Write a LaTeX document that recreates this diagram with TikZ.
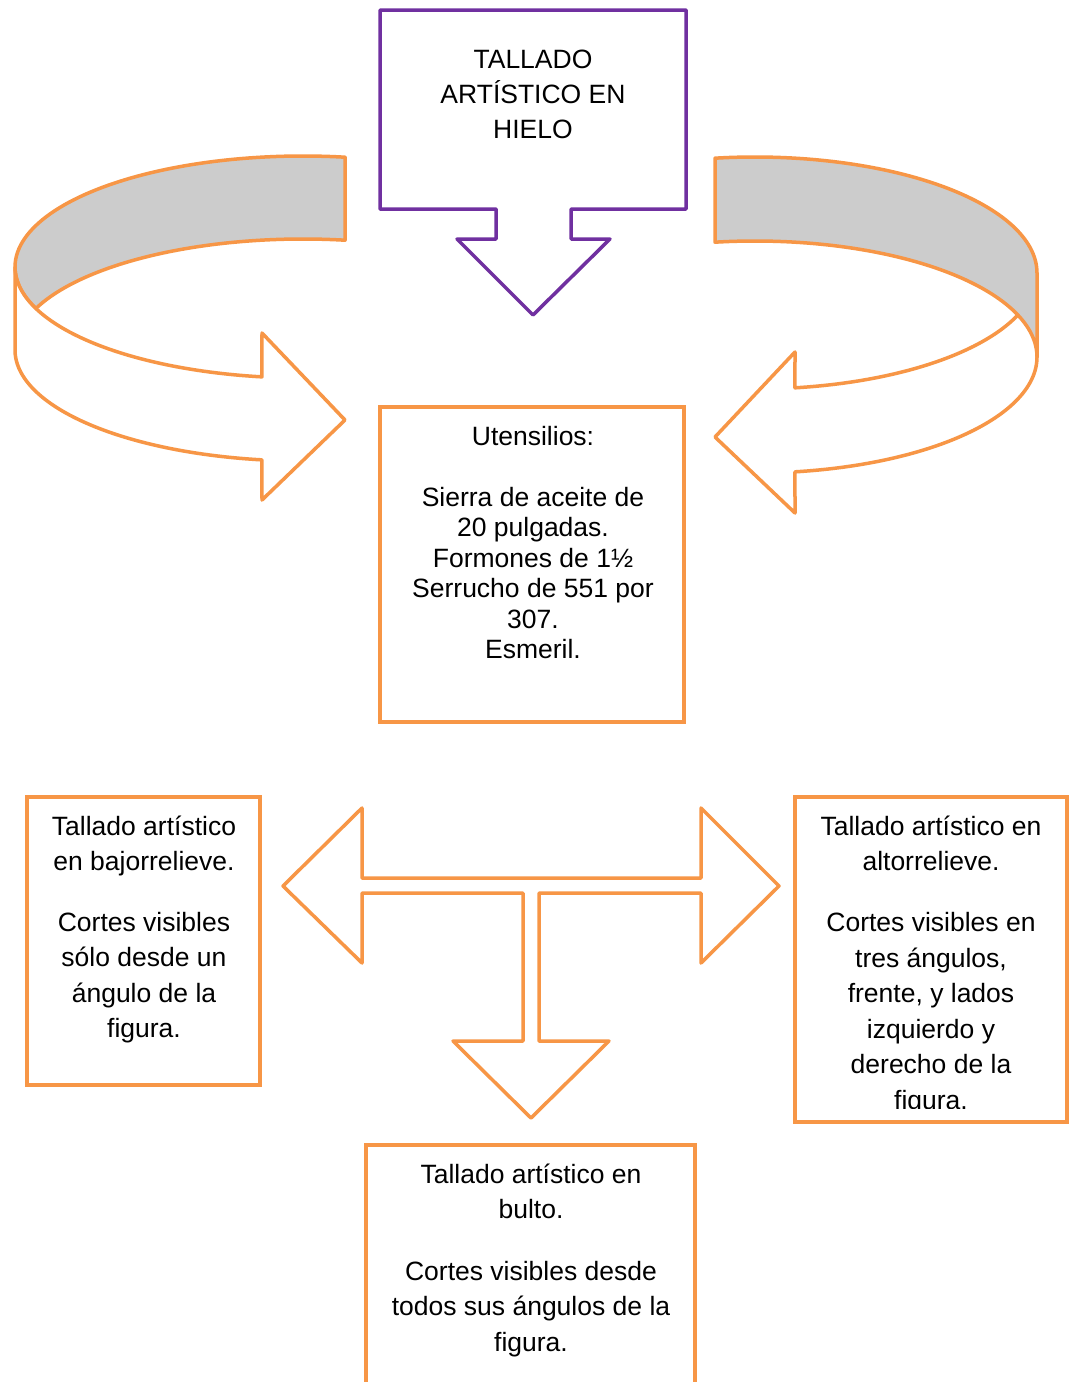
\documentclass[tikz,border=0pt]{standalone}
\usepackage{fontspec}
\setmainfont{Liberation Sans}
\definecolor{accorange}{HTML}{F79646}
\definecolor{accpurple}{HTML}{7030A0}
\definecolor{bandgray}{HTML}{CCCCCC}

\begin{document}
\begin{tikzpicture}[x=1pt, y=-1pt,
  outl/.style={draw=accorange, line width=3.5pt, line join=round, fill=white},
  band/.style={draw=accorange, line width=3.5pt, line join=round, fill=bandgray},
  callout/.style={draw=accpurple, line width=3.5pt, line join=round, fill=white},
  obox/.style={draw=accorange, line width=3.5pt, fill=white, inner sep=0pt, rectangle},
  lbl/.style={font=\fontsize{26.5}{30}\selectfont, inner sep=0pt, anchor=base, text=black}
]
% page frame
\clip (0,0) rectangle (1069,1382);
\fill[white] (0,0) rectangle (1069,1382);

% title callout with downward arrow
\draw[callout] (380,10) -- (686,10) -- (686,209) -- (571,209) -- (571,239)
  -- (610,239) -- (533,315) -- (457,239) -- (496,239) -- (496,209)
  -- (380,209) -- cycle;
\node[lbl] (title1) at (533,68.5) {TALLADO};
\node[lbl] (title2) at (533,103.5) {ARTÍSTICO EN};
\node[lbl] (title3) at (533,138.5) {HIELO};

% left curved ribbon arrow: inner (back) side
\draw[band] (345,157)
  -- plot[domain=81.6:202, samples=70, variable=\t] ({303+288*cos(\t)}, {267-111*sin(\t)})
  -- plot[domain=158:81.6, samples=70, variable=\t] ({303+288*cos(\t)}, {350-111*sin(\t)})
  -- cycle;
% left curved ribbon arrow: front side and head
\draw[outl] (15,267) -- (15,350)
  -- plot[domain=180:261.8, samples=70, variable=\t] ({303+288*cos(\t)}, {350-111*sin(\t)})
  -- (262,500) -- (345,420) -- (262,333)
  -- plot[domain=261.8:180, samples=70, variable=\t] ({303+288*cos(\t)}, {267-111*sin(\t)})
  -- cycle;

% right curved ribbon arrow: front side and head
\draw[outl] plot[domain=-81.85:0, samples=70, variable=\t] ({755+282*cos(\t)}, {273-116*sin(\t)})
  -- plot[domain=0:-81.85, samples=70, variable=\t] ({755+282*cos(\t)}, {357-116*sin(\t)})
  -- (795,513) -- (715,437) -- (795,352) -- cycle;
% right curved ribbon arrow: inner (back) side
\draw[band] (715,158)
  -- plot[domain=98.15:0, samples=70, variable=\t] ({755+282*cos(\t)}, {273-116*sin(\t)})
  -- plot[domain=0:98.15, samples=70, variable=\t] ({755+282*cos(\t)}, {357-116*sin(\t)})
  -- cycle;

% tools box
\node[obox, minimum width=304, minimum height=315] (tools) at (532,564.5) {};
\node[lbl] (tools0) at (533,445) {Utensilios:};
\node[lbl] (tools1) at (533,506) {Sierra de aceite de};
\node[lbl] (tools2) at (533,536.5) {20 pulgadas.};
\node[lbl] (tools3) at (533,567) {Formones de 1½};
\node[lbl] (tools4) at (533,597.5) {Serrucho de 551 por};
\node[lbl] (tools5) at (533,628) {307.};
\node[lbl] (tools6) at (533,658.5) {Esmeril.};

% three-way arrow
\draw[outl] (283,886) -- (362,808) -- (362,878) -- (701,878) -- (701,808)
  -- (779,886) -- (701,963) -- (701,893) -- (539,893) -- (539,1041)
  -- (609,1041) -- (531,1118) -- (453,1041) -- (523,1041) -- (523,893)
  -- (362,893) -- (362,963) -- cycle;

% bas-relief box
\node[obox, minimum width=233, minimum height=288] (bajo) at (143.5,941) {};
\node[lbl] (bajo1) at (144,835) {Tallado artístico};
\node[lbl] (bajo2) at (144,870) {en bajorrelieve.};
\node[lbl] (bajo3) at (144,931) {Cortes visibles};
\node[lbl] (bajo4) at (144,966.5) {sólo desde un};
\node[lbl] (bajo5) at (144,1002) {ángulo de la};
\node[lbl] (bajo6) at (144,1037.5) {figura.};

% high-relief box
\node[obox, minimum width=272, minimum height=325] (alto) at (931,959.5) {};
\begin{scope}
  \clip (795,797) rectangle (1067,1108.5);
  \node[lbl] (alto1) at (931,835) {Tallado artístico en};
  \node[lbl] (alto2) at (931,870) {altorrelieve.};
  \node[lbl] (alto3) at (931,931.5) {Cortes visibles en};
  \node[lbl] (alto4) at (931,967) {tres ángulos,};
  \node[lbl] (alto5) at (931,1002.5) {frente, y lados};
  \node[lbl] (alto6) at (931,1038) {izquierdo y};
  \node[lbl] (alto7) at (931,1073.5) {derecho de la};
  \node[lbl] (alto8) at (931,1109) {figura.};
\end{scope}

% in-the-round box
\node[obox, minimum width=329, minimum height=255] (bulto) at (530.5,1272.5) {};
\node[lbl] (bulto1) at (531,1183) {Tallado artístico en};
\node[lbl] (bulto2) at (531,1218.5) {bulto.};
\node[lbl] (bulto3) at (531,1280) {Cortes visibles desde};
\node[lbl] (bulto4) at (531,1315.5) {todos sus ángulos de la};
\node[lbl] (bulto5) at (531,1351) {figura.};
\end{tikzpicture}
\end{document}
